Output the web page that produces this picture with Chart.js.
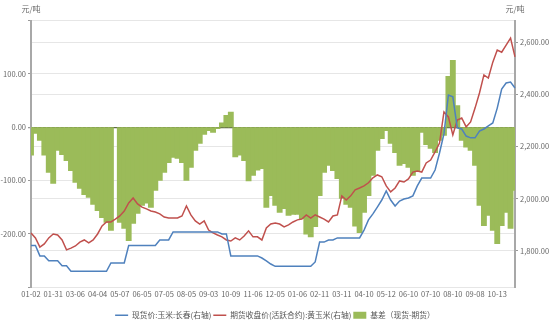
<!DOCTYPE html>
<html>
<head>
<meta charset="utf-8">
<script src="https://cdn.jsdelivr.net/npm/chart.js@4/dist/chart.umd.min.js"></script>
<style>
html,body{margin:0;padding:0;background:#fff;}
#wrap{width:550px;height:325px;}
</style>
</head>
<body>
<div id="wrap"><canvas id="c" width="550" height="325"></canvas></div>
<script>
const tickLabels = ["01-02","01-31","03-06","04-04","05-07","06-05","07-05","08-05","09-03","10-09","11-06","12-05","01-06","02-11","03-11","04-10","05-12","06-10","07-10","08-10","09-08","10-13"];

const spotPrice = [
1821,1821,1781,1781,1762,1762,1762,1743,1743,1722,
1722,1722,1722,1722,1722,1722,1722,1722,1754,1754,
1754,1754,1821,1821,1821,1821,1821,1821,1821,1842,
1842,1842,1873,1873,1873,1873,1873,1873,1873,1873,
1873,1873,1873,1865,1865,1781,1781,1781,1781,1781,
1781,1781,1773,1762,1750,1741,1741,1741,1741,1741,
1741,1741,1741,1741,1758,1834,1834,1842,1842,1850,
1850,1850,1850,1850,1850,1880,1919,1942,1968,1995,
2030,1995,1972,1991,1999,2003,2011,2049,2079,2079,
2079,2110,2175,2248,2397,2390,2271,2267,2240,2233,
2233,2259,2267,2279,2290,2347,2420,2443,2447,2424];

const futuresPrice = [
1869,1850,1815,1827,1850,1865,1861,1842,1804,1811,
1819,1834,1842,1831,1842,1865,1896,1911,1911,1922,
1934,1953,1984,2003,1980,1968,1961,1953,1949,1942,
1930,1926,1926,1926,1934,1972,1938,1915,1903,1915,
1880,1869,1861,1854,1842,1838,1850,1842,1857,1877,
1854,1854,1842,1888,1903,1907,1903,1892,1900,1911,
1919,1922,1938,1926,1938,1930,1922,1911,1934,1938,
2011,1995,2011,2034,2041,2049,2061,2080,2091,2084,
2049,2026,2041,2068,2064,2076,2102,2106,2102,2137,
2148,2179,2213,2332,2313,2244,2301,2309,2275,2294,
2347,2405,2474,2462,2523,2569,2561,2588,2615,2543];

const basis = [
-52,-11,-24,-52,-84,-105,-43,-51,-62,-81,
-103,-114,-126,-131,-144,-156,-169,-178,-193,null,
-178,-189,-212,-180,-161,-146,-142,-150,-118,-99,
-84,-66,-56,-58,-66,-99,-75,-43,-30,-13,
-6,-9,-2,8,22,28,-55,-52,-62,-100,
-90,-80,-77,-150,-128,-146,-159,-152,-165,-163,
-163,-171,-200,-205,-186,-128,-84,-71,-81,-96,
-133,-144,-150,-185,-197,-159,-128,-90,-43,-21,
-6,-30,-47,-71,-68,-75,-90,-81,-9,-32,
-39,-47,-24,-15,95,125,40,-24,-37,-43,
-71,-146,-184,-165,-193,-218,-184,-159,-189,-118];

const leftTicks = [-300,-200,-100,0,100,200];
const rightTicks = [1800,2000,2200,2400,2600];

const categories = spotPrice.map((_, i) => (i % 5 === 0 && tickLabels[i / 5]) ? tickLabels[i / 5] : '');

const FONT = '"Noto Sans CJK SC", "Noto Sans", sans-serif';
const fmt = v => Number(v).toLocaleString('en-US', {minimumFractionDigits: 2, maximumFractionDigits: 2});

const unitTitles = {
  id: 'unitTitles',
  afterDraw(chart) {
    const ctx = chart.ctx;
    const a = chart.chartArea;
    ctx.save();
    ctx.font = '8px ' + FONT;
    ctx.fillStyle = '#666';
    ctx.textAlign = 'center';
    ctx.textBaseline = 'middle';
    ctx.fillText('元/吨', a.left, 9);
    ctx.fillText('元/吨', a.right, 9);
    ctx.restore();
  }
};

new Chart(document.getElementById('c'), {
  type: 'bar',
  data: {
    labels: categories,
    datasets: [
      {
        type: 'line',
        label: '现货价:玉米:长春(右轴)',
        data: spotPrice,
        yAxisID: 'yR',
        borderColor: '#4F81BD',
        backgroundColor: '#4F81BD',
        borderWidth: 1.5,
        pointRadius: 0,
        pointStyle: 'line',
        tension: 0
      },
      {
        type: 'line',
        label: '期货收盘价(活跃合约):黄玉米(右轴)',
        data: futuresPrice,
        yAxisID: 'yR',
        borderColor: '#C0504D',
        backgroundColor: '#C0504D',
        borderWidth: 1.5,
        pointRadius: 0,
        pointStyle: 'line',
        tension: 0
      },
      {
        type: 'bar',
        label: '基差（现货-期货）',
        data: basis,
        yAxisID: 'yL',
        backgroundColor: '#9BBB59',
        borderColor: '#9BBB59',
        borderWidth: 0,
        inflateAmount: 0.6,
        barPercentage: 1.05,
        categoryPercentage: 1,
        pointStyle: 'rect'
      }
    ]
  },
  options: {
    responsive: false,
    animation: false,
    devicePixelRatio: 1,
    layout: { padding: { top: 20.6, bottom: -4, left: 0, right: 0 } },
    plugins: {
      legend: {
        position: 'bottom',
        labels: {
          font: { size: 7.75, family: FONT },
          color: '#555',
          usePointStyle: true,
          pointStyleWidth: 13,
          boxHeight: 7,
          padding: 2
        }
      },
      tooltip: { enabled: false }
    },
    scales: {
      x: {
        type: 'category',
        offset: false,
        afterFit: axis => { axis.height = 22; },
        grid: { display: false, drawTicks: false },
        border: { display: false },
        ticks: {
          autoSkip: false,
          maxRotation: 0,
          minRotation: 0,
          padding: 2,
          color: '#666',
          font: { size: 7.5, family: FONT }
        }
      },
      yL: {
        position: 'left',
        min: -300,
        max: 200,
        afterBuildTicks: axis => { axis.ticks = leftTicks.map(v => ({ value: v })); },
        afterFit: axis => { axis.width = 31; },
        grid: {
          color: ctx => ctx.tick && ctx.tick.value === 0 ? '#5e6a45' : '#e6e6e6',
          lineWidth: ctx => ctx.tick && ctx.tick.value === 0 ? 1.3 : 1,
          tickColor: '#999',
          tickLength: 3
        },
        border: { display: true, color: '#a8a8a8', width: 2 },
        ticks: {
          padding: 2,
          color: '#666',
          font: { size: 7.5, family: FONT },
          callback: v => (v === -300 || v === 200) ? '' : fmt(v)
        }
      },
      yR: {
        position: 'right',
        min: 1661,
        max: 2682,
        afterBuildTicks: axis => { axis.ticks = rightTicks.map(v => ({ value: v })); },
        afterFit: axis => { axis.width = 35; },
        grid: {
          color: '#e6e6e6',
          tickColor: '#999',
          tickLength: 3
        },
        border: { display: true, color: '#a8a8a8', width: 2 },
        ticks: {
          padding: 2,
          color: '#666',
          font: { size: 7.5, family: FONT },
          callback: v => fmt(v)
        }
      }
    }
  },
  plugins: [unitTitles]
});
</script>
</body>
</html>
